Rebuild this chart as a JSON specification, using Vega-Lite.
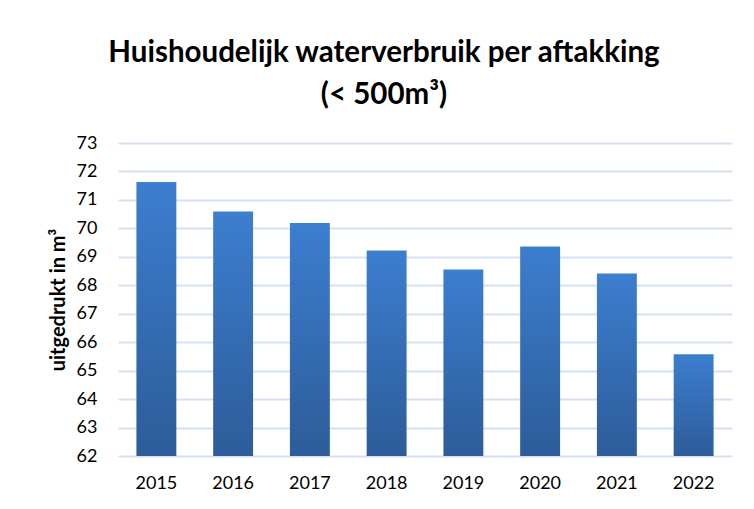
{
  "$schema": "https://vega.github.io/schema/vega-lite/v6.json",
  "width": 614,
  "height": 313,
  "autosize": {"type": "none"},
  "padding": {"left": 118, "top": 143, "right": 22, "bottom": 53},
  "background": "white",
  "title": {
    "text": ["Huishoudelijk waterverbruik per aftakking", "(< 500m³)"],
    "font": "Lato",
    "fontSize": 29.5,
    "fontWeight": "bold",
    "color": "#000000",
    "lineHeight": 42,
    "anchor": "middle",
    "dx": -41,
    "offset": 24
  },
  "data": {
    "values": [
      {"jaar": "2015", "verbruik": 71.63},
      {"jaar": "2016", "verbruik": 70.59},
      {"jaar": "2017", "verbruik": 70.19},
      {"jaar": "2018", "verbruik": 69.22},
      {"jaar": "2019", "verbruik": 68.55},
      {"jaar": "2020", "verbruik": 69.36},
      {"jaar": "2021", "verbruik": 68.41},
      {"jaar": "2022", "verbruik": 65.58}
    ]
  },
  "mark": {
    "type": "bar",
    "color": {
      "gradient": "linear",
      "x1": 0, "y1": 0, "x2": 0, "y2": 1,
      "stops": [
        {"offset": 0, "color": "#3c7ecf"},
        {"offset": 1, "color": "#2d5c99"}
      ]
    }
  },
  "encoding": {
    "x": {
      "field": "jaar",
      "type": "nominal",
      "scale": {"paddingInner": 0.48, "paddingOuter": 0.24},
      "axis": {
        "title": null,
        "labelAngle": 0,
        "labelFont": "Lato",
        "labelFontSize": 18,
        "labelColor": "#000000",
        "labelPadding": 18,
        "domain": false,
        "ticks": false
      }
    },
    "y": {
      "field": "verbruik",
      "type": "quantitative",
      "scale": {"domain": [62, 73], "zero": false, "nice": false},
      "axis": {
        "title": "uitgedrukt in m³",
        "titleFont": "Lato",
        "titleFontSize": 20,
        "titleFontWeight": "bold",
        "titleColor": "#000000",
        "titlePadding": 8,
        "values": [62, 63, 64, 65, 66, 67, 68, 69, 70, 71, 72, 73],
        "labelFont": "Lato",
        "labelFontSize": 18,
        "labelColor": "#000000",
        "labelPadding": 21,
        "domain": false,
        "ticks": false,
        "gridColor": "#d6e1f1",
        "gridWidth": 2,
        "gridOpacity": 1
      }
    },
    "y2": {"datum": 62}
  },
  "config": {"view": {"stroke": null}}
}
